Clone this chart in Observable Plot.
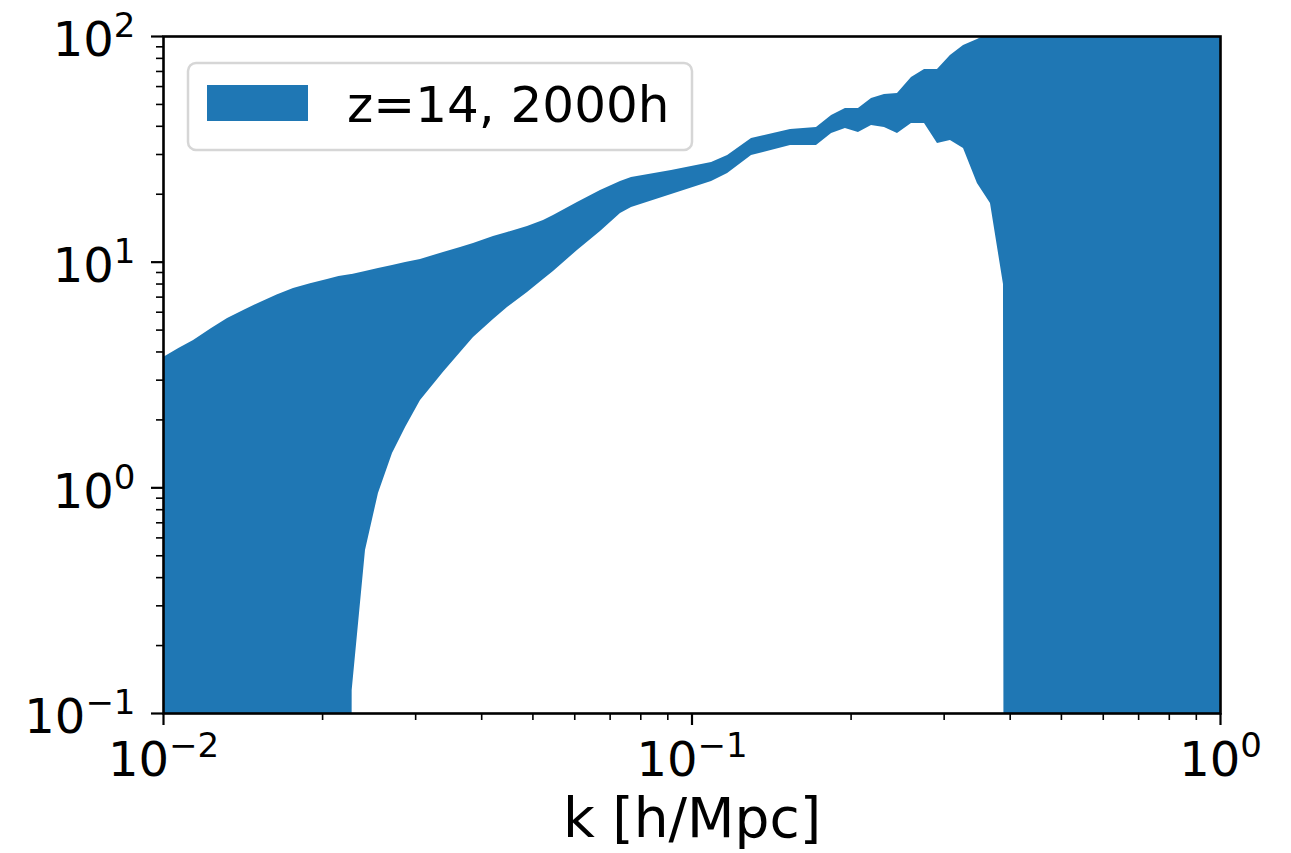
<!DOCTYPE html>
<html><head><meta charset="utf-8">
<script src="https://cdn.jsdelivr.net/npm/d3@7"></script>
<script src="https://cdn.jsdelivr.net/npm/@observablehq/plot@0.6"></script>
<style>body{margin:0;background:#fff;} #chart{position:relative;width:1291px;height:853px;}</style>
</head><body><div id="chart"></div>
<script>
// wavenumber k [h/Mpc]
const k = [0.01, 0.01069, 0.0114, 0.01231, 0.01322, 0.01421, 0.01526, 0.01640, 0.01762, 0.01897,
  0.02043, 0.02148, 0.0227, 0.02275, 0.02411,
  0.02551, 0.02712, 0.02871, 0.03064, 0.03387, 0.03648, 0.0386, 0.04211, 0.04476, 0.04884,
  0.05236, 0.05469, 0.06071, 0.06712, 0.07323, 0.07683, 0.09147, 0.1089, 0.1168, 0.1296,
  0.1536, 0.172, 0.1837, 0.1951, 0.2065, 0.2186, 0.2313, 0.2448, 0.2602, 0.2754,
  0.2914, 0.3083, 0.3264, 0.3468, 0.3671, 0.3885, 0.39, 1.0];
// lower edge of band (values far below the axis are clipped)
const lower = [0.001, 0.001, 0.001, 0.001, 0.001, 0.001, 0.001, 0.001, 0.001, 0.001,
  0.001, 0.001, 0.001, 0.1265, 0.528,
  0.944, 1.42, 1.85, 2.44, 3.25, 3.98, 4.64, 5.57, 6.30, 7.34,
  8.38, 9.09, 11.27, 13.68, 16.44, 17.47, 19.95, 22.79, 24.72, 29.71,
  32.89, 32.89, 37.17, 39.13, 37.56, 40.35, 39.53, 37.17, 41.18, 41.18,
  33.56, 34.61, 31.91, 22.33, 18.20, 7.96, 0.001, 0.001];
// upper edge of band (values above 100 are clipped)
const upper = [3.78, 4.14, 4.50, 5.07, 5.63, 6.12, 6.63, 7.15, 7.65, 8.03,
  8.38, 8.65, 8.81, 8.82, 9.09,
  9.38, 9.67, 9.97, 10.28, 11.04, 11.62, 12.10, 13.00, 13.54, 14.39,
  15.30, 16.10, 18.39, 20.78, 22.79, 23.74, 25.49, 27.65, 29.71, 35.33,
  38.71, 39.53, 44.67, 47.97, 47.97, 53.13, 55.34, 55.91, 65.80, 71.42,
  71.42, 82.38, 91.24, 96.99, 104, 150, 150, 150];

const seriesName = "z=14, 2000h";
const xTitle = "k [h/Mpc]";
const xMajor = [0.01, 0.1, 1];
const xMajorLabels = ["10^\u22122", "10^\u22121", "10^0"];
const xMinor = [0.02, 0.03, 0.04, 0.05, 0.06, 0.07, 0.08, 0.09, 0.2, 0.3, 0.4, 0.5, 0.6, 0.7, 0.8, 0.9];
const yMajor = [0.1, 1, 10, 100];
const yMajorLabels = ["10^\u22121", "10^0", "10^1", "10^2"];
const yMinor = [0.2, 0.3, 0.4, 0.5, 0.6, 0.7, 0.8, 0.9, 2, 3, 4, 5, 6, 7, 8, 9, 20, 30, 40, 50, 60, 70, 80, 90];

const BLUE = "#1f77b4";
const data = k.map((d, i) => ({k: d, lo: lower[i], hi: upper[i]}));
const xLab = new Map(xMajor.map((v, i) => [v, xMajorLabels[i]]));
const yLab = new Map(yMajor.map((v, i) => [v, yMajorLabels[i]]));

const svg = Plot.plot({
  width: 1291, height: 853,
  marginLeft: 163, marginRight: 71, marginTop: 36, marginBottom: 140,
  style: {fontFamily: "DejaVu Sans", background: "white", color: "black"},
  x: {type: "log", domain: [0.01, 1]},
  y: {type: "log", domain: [0.1, 100]},
  marks: [
    Plot.areaY(data, {x: "k", y1: "lo", y2: "hi", fill: BLUE, clip: true}),
    Plot.axisX({ticks: xMinor, tickSize: 7, strokeWidth: 1.6, tickFormat: () => "", label: null}),
    Plot.axisX({ticks: xMajor, tickSize: 12, strokeWidth: 2.2, tickPadding: 16, fontSize: 48,
      tickFormat: d => xLab.get(d), label: null}),
    Plot.axisY({ticks: yMinor, tickSize: 7, strokeWidth: 1.6, tickFormat: () => "", label: null}),
    Plot.axisY({ticks: yMajor, tickSize: 12, strokeWidth: 2.2, tickPadding: 16, fontSize: 48,
      tickFormat: d => yLab.get(d), label: null}),
    Plot.frame({stroke: "black", strokeWidth: 2.6}),
    Plot.text([xTitle], {frameAnchor: "bottom", dy: 123, text: d => d, fontSize: 55, fill: "black"})
  ]
});

const NS = "http://www.w3.org/2000/svg";
function supify(sel, isY) {
  svg.querySelectorAll(sel).forEach(t => {
    const s = t.textContent;
    if (!s.includes("^")) return;
    const [base, exp] = s.split("^");
    t.textContent = "";
    const a = document.createElementNS(NS, "tspan");
    a.textContent = base;
    if (isY) a.setAttribute("dy", "4.6");
    const b = document.createElementNS(NS, "tspan");
    b.textContent = exp;
    b.setAttribute("font-size", "34");
    b.setAttribute("dy", "-19");
    t.append(a, b);
  });
}
supify('g[aria-label="x-axis tick label"] text', false);
supify('g[aria-label="y-axis tick label"] text', true);

// legend (inside the axes, upper left)
const lg = d3.select(svg).append("g").attr("class", "legend");
lg.append("rect").attr("x", 188).attr("y", 63).attr("width", 504).attr("height", 87)
  .attr("rx", 8).attr("fill", "white").attr("fill-opacity", 0.8)
  .attr("stroke", "#d6d6d6").attr("stroke-width", 2.5);
lg.append("rect").attr("x", 207).attr("y", 85).attr("width", 101).attr("height", 36).attr("fill", BLUE);
lg.append("text").attr("x", 347).attr("y", 122).attr("font-size", 50)
  .attr("text-anchor", "start")
  .attr("font-family", "DejaVu Sans").attr("fill", "black").text(seriesName);

document.getElementById("chart").append(svg);
</script>
</body></html>
